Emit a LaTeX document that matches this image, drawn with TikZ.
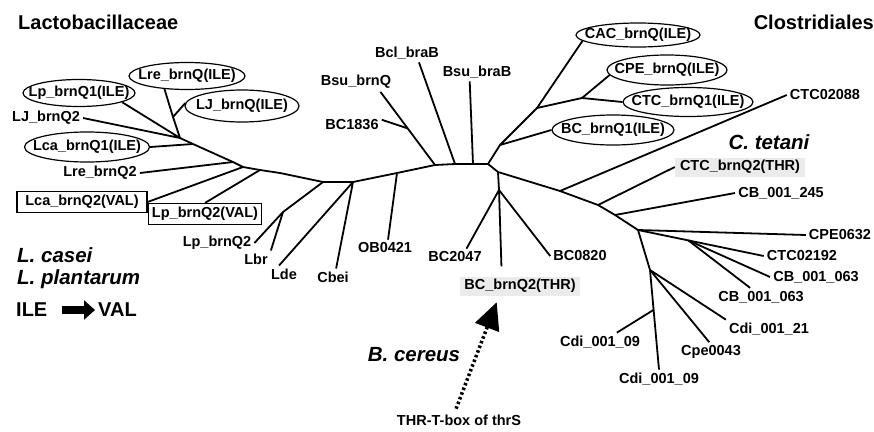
\documentclass[tikz,border=0pt]{standalone}
\usepackage{fontspec}
\setmainfont{Liberation Sans}
\usetikzlibrary{arrows.meta,shapes.geometric,calc}
\newcommand{\lblfont}{\fontsize{14.5}{16}\selectfont\bfseries}
\newcommand{\bigfont}{\fontsize{20}{22}\selectfont\bfseries}
\newcommand{\spfont}{\fontsize{20.5}{22}\selectfont\bfseries\itshape}
\newcommand{\tight}[1]{\makebox[0pt]{#1}}

\begin{document}
\begin{tikzpicture}[x=1pt,y=-1pt,
  lbl/.style={font=\lblfont,inner sep=3pt},
  oval/.style={draw,ellipse,line width=1.2pt,inner sep=0pt,font=\lblfont},
  valbox/.style={draw,line width=1.2pt,inner sep=0pt,minimum height=21pt,font=\lblfont},
  thrbox/.style={fill=black!8,inner sep=0pt,minimum height=19pt,font=\lblfont},
  head/.style={font=\bigfont,inner sep=0pt},
  species/.style={font=\spfont,inner sep=0pt},
  branch/.style={line width=1.8pt,line join=round},
  fatarrow/.style={line width=8pt,-{Triangle[length=11pt,width=19pt]}},
  dotarrow/.style={line width=3.5pt,dash pattern=on 2.5pt off 2.5pt,
                   -{Triangle[length=27pt,width=25pt]}}
]
\useasboundingbox (0,0) rectangle (874,431);

\node[head,anchor=west] (lacto) at (18,22) {Lactobacillaceae};
\node[head,anchor=east] (clost) at (874,22) {Clostridiales};
\node[species,anchor=west] (casei) at (17,255) {L. casei};
\node[species,anchor=west] (plant) at (17,279) {L. plantarum};
\node[head,anchor=west,inner sep=3pt] (ile) at (13,310) {ILE};
\node[head,anchor=west,inner sep=3pt] (val) at (95,310) {VAL};
\node[species] (cereus) at (414,355) {B. cereus};
\node[species] (tetani) at (769,142) {C. tetani};
\node[lbl] (tbox) at (459,420) {THR-T-box of thrS};

\node[oval,minimum width=116pt,minimum height=27pt] (lreile) at (187,76) {\tight{Lre\_brnQ(ILE)}};
\node[oval,minimum width=112pt,minimum height=27pt] (lpile) at (79,93) {\tight{Lp\_brnQ1(ILE)}};
\node[oval,minimum width=114pt,minimum height=32pt] (ljile) at (242,106) {\tight{LJ\_brnQ(ILE)}};
\node[oval,minimum width=125pt,minimum height=30pt] (lcaile) at (87,147) {\tight{Lca\_brnQ1(ILE)}};
\node[lbl] (ljq2) at (46,118) {LJ\_brnQ2};
\node[lbl] (lreq2) at (100,173) {Lre\_brnQ2};
\node[valbox,minimum width=130pt] (lcaval) at (82,202) {\tight{Lca\_brnQ2(VAL)}};
\node[valbox,minimum width=113pt] (lpval) at (205,214) {\tight{Lp\_brnQ2(VAL)}};
\node[lbl] (lpq2) at (217,243) {Lp\_brnQ2};
\node[lbl] (lbr) at (256,259) {Lbr};
\node[lbl] (lde) at (284,274) {Lde};
\node[lbl] (cbei) at (333,277) {Cbei};
\node[lbl] (ob0421) at (385,248) {OB0421};
\node[lbl] (bc1836) at (352,125) {BC1836};
\node[lbl] (bsubrnq) at (356,82) {Bsu\_brnQ};
\node[lbl] (bclbrab) at (407,53) {Bcl\_braB};
\node[lbl] (bsubrab) at (477,72) {Bsu\_braB};
\node[lbl] (bc2047) at (455,257) {BC2047};
\node[thrbox,minimum width=120pt] (bcthr) at (520,286) {\tight{BC\_brnQ2(THR)}};
\node[lbl] (bc0820) at (580,256) {BC0820};
\node[oval,minimum width=124pt,minimum height=24pt] (cacile) at (638,35) {\tight{CAC\_brnQ(ILE)}};
\node[oval,minimum width=120pt,minimum height=30pt] (cpeile) at (667,70) {\tight{CPE\_brnQ(ILE)}};
\node[oval,minimum width=130pt,minimum height=29pt] (ctcile) at (688,102) {\tight{CTC\_brnQ1(ILE)}};
\node[oval,minimum width=122pt,minimum height=30pt] (bcile) at (613,130) {\tight{BC\_brnQ1(ILE)}};
\node[lbl] (ctc02088) at (825,95) {CTC02088};
\node[thrbox,minimum width=130pt] (ctcthr) at (740,167) {\tight{CTC\_brnQ2(THR)}};
\node[lbl] (cb245) at (781,193) {CB\_001\_245};
\node[lbl] (cpe0632) at (840,235) {CPE0632};
\node[lbl] (ctc02192) at (802,256) {CTC02192};
\node[lbl] (cb063a) at (816,277) {CB\_001\_063};
\node[lbl] (cb063b) at (761,297) {CB\_001\_063};
\node[lbl] (cdi21) at (769,329) {Cdi\_001\_21};
\node[lbl] (cpe0043) at (711,352) {Cpe0043};
\node[lbl] (cdi09a) at (600,342) {Cdi\_001\_09};
\node[lbl] (cdi09b) at (659,379) {Cdi\_001\_09};

\coordinate (lj1) at (173,117);
\coordinate (lj2) at (180,138);
\coordinate (lj3) at (193,144);
\coordinate (lj4) at (233,162);
\coordinate (lj5) at (243,167);
\coordinate (lj6) at (260,170);
\coordinate (bb0) at (280,173);
\coordinate (bb1) at (323,182);
\coordinate (lj7) at (283,212);
\coordinate (bb2) at (353,182);
\coordinate (bb3) at (397,173);
\coordinate (bb4) at (435,165);
\coordinate (bb5) at (455,164);
\coordinate (bb6) at (473,164);
\coordinate (bb7) at (488,164);
\coordinate (bj1) at ($(bb4)!0.5!(bsubrnq.-22)$);
\coordinate (rj1) at (500,145);
\coordinate (rj2) at (537,108);
\coordinate (rj3) at (582,98);
\coordinate (rk1) at (498,172);
\coordinate (bcj) at (499,190);
\coordinate (rk2) at (560,191);
\coordinate (rk3) at (598,205);
\coordinate (rk4) at (615,215);
\coordinate (rk5) at (638,230);
\coordinate (rk6) at ($(rk5)!0.4!(ctc02192.west)$);
\coordinate (rk7) at (650,270);
\coordinate (rk8) at ($(rk7)!0.4!(cdi09b.north)$);

\draw[branch] (lj1) -- (lj2) -- (lj3) -- (lj4) -- (lj5) -- (lj6) -- (bb0) -- (bb1) -- (bb2)
  -- (bb3) -- (bb4) -- (bb5) -- (bb6) -- (bb7) -- (rk1) -- (rk2) -- (rk3) -- (rk4) -- (rk5)
  -- (rk7) -- (cdi09b.north);
\draw[branch] (lreile.210) -- (lj1) -- (ljile.177);
\draw[branch] (lpile.-12) -- (lj2) -- (ljq2.east);
\draw[branch] (lcaile.east) -- (lj3);
\draw[branch] (lreq2.east) -- (lj4);
\draw[branch] (lcaval.east) -- (lj5);
\draw[branch] (lpval.north) -- (lj6);
\draw[branch] (bb1) -- (lj7) -- (lpq2.east);
\draw[branch] (lj7) -- (lbr.north east);
\draw[branch] (lde.120) -- (bb2) -- (cbei.70);
\draw[branch] (bb3) -- (ob0421.70);
\draw[branch] (bb4) -- (bsubrnq.-22);
\draw[branch] (bj1) -- (bc1836.10);
\draw[branch] (bb5) -- (bclbrab.-38);
\draw[branch] (bb6) -- (bsubrab.-128);
\draw[branch] (bb7) -- (rj1) -- (rj2) -- (cacile.186);
\draw[branch] (rj1) -- (bcile.west);
\draw[branch] (rj2) -- (rj3) -- (cpeile.185);
\draw[branch] (rj3) -- (ctcile.west);
\draw[branch,shorten >=10pt] (rk1) -- (bcj) -- (bcthr.152);
\draw[branch] (bcj) -- (bc2047.36);
\draw[branch] (bcj) -- (bc0820.west);
\draw[branch] (rk2) -- (ctc02088.west);
\draw[branch] (rk3) -- (ctcthr.west);
\draw[branch] (rk4) -- (cb245.west);
\draw[branch] (rk5) -- (cpe0632.west);
\draw[branch] (rk5) -- (ctc02192.west);
\draw[branch] (rk6) -- (cb063a.west);
\draw[branch] (rk6) -- (cb063b.140);
\draw[branch] (rk7) -- (cdi21.north west);
\draw[branch] (rk7) -- (cpe0043.100);
\draw[branch] (rk8) -- (cdi09a.29);

\draw[fatarrow,shorten <=11pt] (ile) -- (val);
\draw[dotarrow,shorten <=3pt,shorten >=7pt] (tbox.115) -- (bcthr.-155);
\end{tikzpicture}
\end{document}
